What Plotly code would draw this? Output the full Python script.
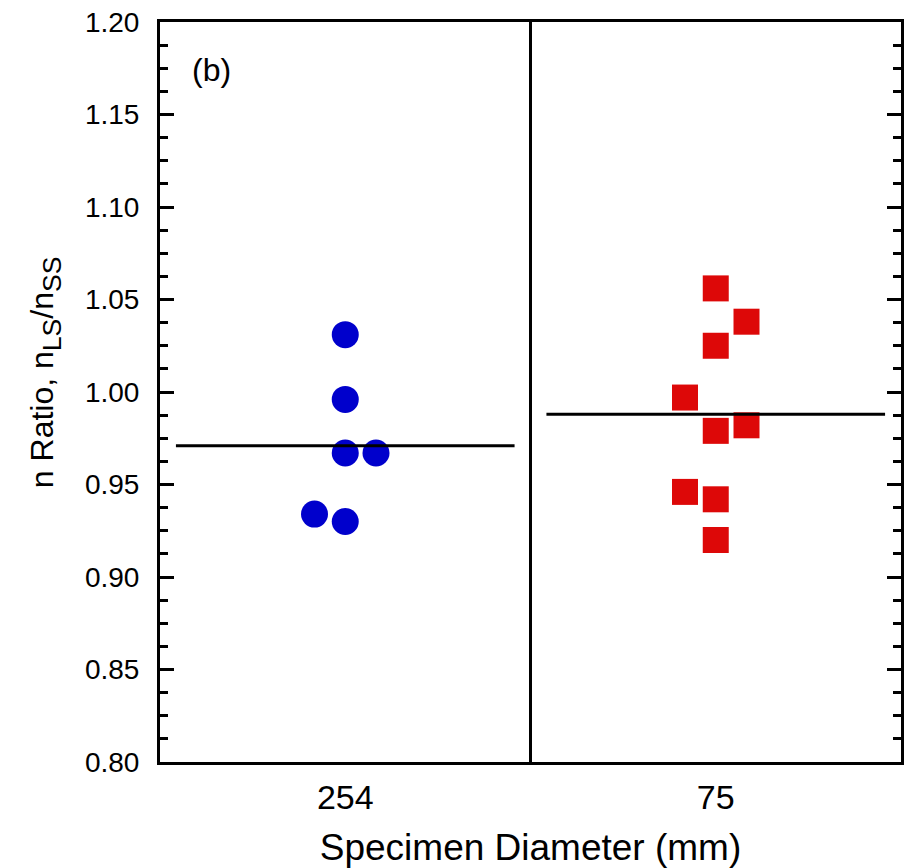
import plotly.graph_objects as go

# Data
categories = ["254", "75"]
d254_values = [1.031, 0.996, 0.967, 0.967, 0.934, 0.930]
d254_slots = [0, 0, 0, 1, -1, 0]
d75_values = [1.056, 1.038, 1.025, 0.997, 0.979, 0.982, 0.946, 0.942, 0.920]
d75_slots = [0, 1, 0, -1, 0, 1, -1, 0, 0]
mean_values = [0.971, 0.988]

SLOT_W = 0.083
HALF = 0.457
centers = [0.5, 1.5]

fig = go.Figure()
fig.add_trace(go.Scatter(
    x=[centers[0] + s * SLOT_W for s in d254_slots], y=d254_values,
    mode="markers", marker=dict(symbol="circle", size=27, color="#0000CC", line=dict(width=0)),
    showlegend=False))
fig.add_trace(go.Scatter(
    x=[centers[1] + s * SLOT_W for s in d75_slots], y=d75_values,
    mode="markers", marker=dict(symbol="square", size=26, color="#DD0808", line=dict(width=0)),
    showlegend=False))
for c, m in zip(centers, mean_values):
    fig.add_trace(go.Scatter(x=[c - HALF, c + HALF], y=[m, m], mode="lines",
                             line=dict(color="black", width=3), showlegend=False))

fig.add_shape(type="line", xref="x", yref="paper", x0=1.0, x1=1.0, y0=0, y1=1,
              line=dict(color="black", width=3))

fig.add_annotation(text="(b)", xref="paper", yref="paper", x=0.04, y=0.935,
                   xanchor="left", yanchor="middle", showarrow=False,
                   font=dict(size=32, color="black"))

ytitle = ("<span style=\"font-size:32px\">n Ratio, n</span><sub>LS</sub>"
          "<span style=\"font-size:32px\">/n</span><sub>SS</sub>")
fig.add_annotation(text=ytitle, xref="paper", yref="paper", x=-0.155, y=0.527,
                   xanchor="center", yanchor="middle", textangle=-90, showarrow=False,
                   font=dict(size=38, color="black"))

fig.update_layout(
    width=911, height=868,
    margin=dict(l=160, r=10, t=22, b=106),
    plot_bgcolor="white", paper_bgcolor="white",
    font=dict(family="Liberation Sans, Arial, sans-serif", color="black"),
    xaxis=dict(range=[0, 2], tickvals=centers, ticktext=categories, ticks="",
               showgrid=False, zeroline=False, showline=True, linecolor="black",
               linewidth=3, mirror=True, tickfont=dict(size=34),
               ticklabelstandoff=3, automargin=False,
               title=dict(text="Specimen Diameter (mm)", font=dict(size=37), standoff=22)),
    yaxis=dict(range=[0.80, 1.20], tickmode="linear", tick0=0.8, dtick=0.05,
               tickformat=".2f", ticks="inside", ticklen=14, tickwidth=3,
               tickcolor="black", showgrid=False, zeroline=False, showline=True,
               linecolor="black", linewidth=3, mirror="ticks",
               tickfont=dict(size=28), ticklabelstandoff=12, automargin=False,
               minor=dict(ticks="inside", ticklen=8, tickwidth=3, tickcolor="black",
                          dtick=0.0125, tick0=0.8)),
)

fig.write_html("out.html")
